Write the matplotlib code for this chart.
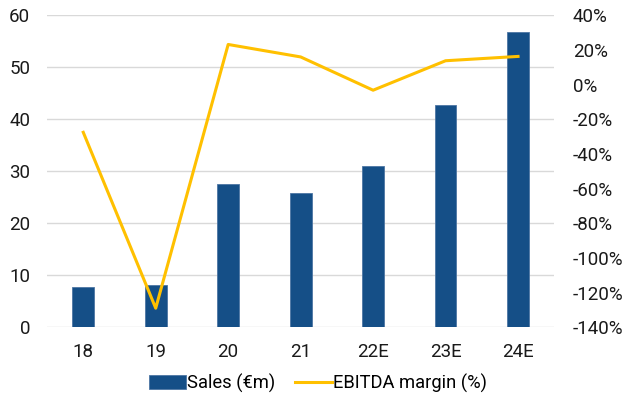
import matplotlib.pyplot as plt
import numpy as np

years = ['18', '19', '20', '21', '22E', '23E', '24E']
sales = [7.7, 8.1, 27.5, 25.9, 31.0, 42.7, 56.8]
ebitda_margin = [-27.5, -129, 23.2, 16.0, -3.2, 13.8, 16.3]

plt.rcParams['font.family'] = ['Roboto', 'DejaVu Sans']

fig = plt.figure(figsize=(6.27, 4.04), dpi=100)
ax = fig.add_axes([0.075, 0.190, 0.809, 0.772])
ax2 = ax.twinx()

x = np.arange(len(years))
bars = ax.bar(x, sales, width=0.30, color='#154f87', edgecolor='#4d76a3', linewidth=0.6,
              label='Sales (€m)', zorder=2)
line, = ax2.plot(x, ebitda_margin, color='#ffc000', linewidth=2.2, label='EBITDA margin (%)', zorder=3)

ax.set_xlim(-0.5, len(years) - 0.5)
ax.set_ylim(0, 60)
ax.set_yticks(range(0, 61, 10))
ax2.set_ylim(-140, 40)
ax2.set_yticks(range(-140, 41, 20))
ax2.set_yticklabels([f'{v}%' for v in range(-140, 41, 20)])
ax.set_xticks(x)
ax.set_xticklabels(years)

ax.grid(axis='y', color='#d9d9d9', linewidth=1, zorder=0)
ax.set_axisbelow(True)
for a in (ax, ax2):
    for s in a.spines.values():
        s.set_visible(False)
    a.tick_params(length=0, labelsize=13.5, colors='#1a1a1a')
ax.tick_params(axis='x', pad=11)
ax.tick_params(axis='y', pad=12)
ax2.tick_params(axis='y', pad=13.5)

fig.legend([bars, line], ['Sales (€m)', 'EBITDA margin (%)'], loc='center',
           bbox_to_anchor=(0.507, 0.052), ncol=2, frameon=False, fontsize=13.2,
           handlelength=2.0, handleheight=0.8, handletextpad=0.05, columnspacing=1.1)

plt.savefig('out.png', dpi=100)
plt.close()
